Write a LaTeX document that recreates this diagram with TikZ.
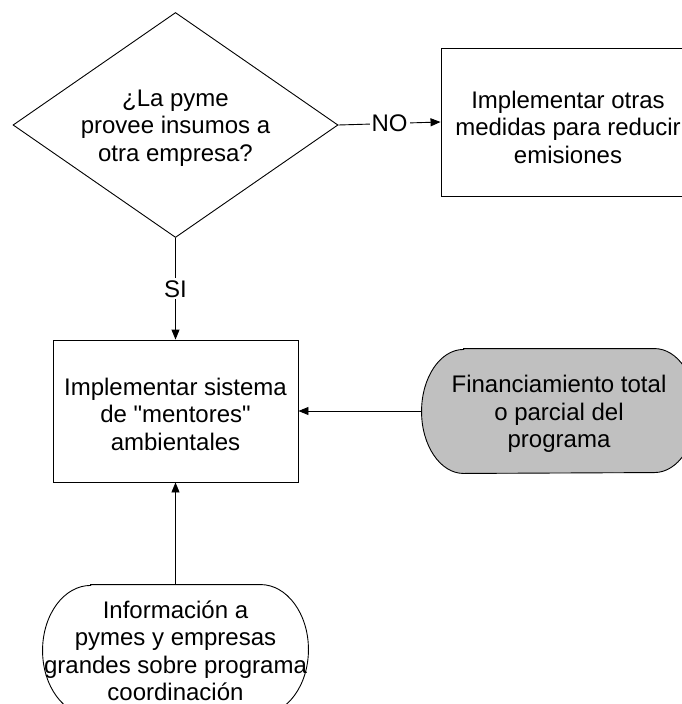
\documentclass[tikz,border=0pt]{standalone}
\usepackage{fontspec}
\setmainfont{Liberation Sans}[Ligatures=TeXOff]
\usetikzlibrary{shapes.geometric,arrows.meta,calc}
\definecolor{shade}{RGB}{192,192,192}
\tikzset{
  box/.style={draw, rectangle, inner sep=0pt},
  txt/.style={align=center, inner sep=0pt},
  arr/.style={-{Triangle[length=10pt,width=8pt]}},
  lbl/.style={fill=white, inner sep=2pt},
}
\begin{document}
\begin{tikzpicture}[x=1pt,y=1pt,font=\fontsize{24}{27.5}\selectfont,line width=0.9pt]
\useasboundingbox (0,0) rectangle (682,-704);
\clip (0,0) rectangle (682,-704);
% decision
\node[diamond, draw, aspect=1.444, minimum width=325pt, minimum height=225pt, inner sep=0pt] (d) at (175.5,-125) {};
\node[txt] (dt) at (175.5,-128) {¿La pyme\\provee insumos a\\otra empresa?};
% right box
\node[box, minimum width=254pt, minimum height=148pt] (r) at (568,-122) {};
\node[txt] (rt) at (568,-127) {Implementar otras\\medidas para reducir\\emisiones};
% middle box
\node[box, minimum width=245pt, minimum height=142pt] (m) at (175.5,-411) {};
\node[txt] (mt) at (175.5,-414) {Implementar sistema\\de "mentores"\\ambientales};
% gray terminator
\node[minimum width=274pt, minimum height=124pt, inner sep=0pt] (g) at (559,-411) {};
\draw[fill=shade] ($(g.north west)+(42pt,0)$) -- ($(g.north east)+(-42pt,0)$)
  arc[start angle=90,end angle=-90,x radius=42pt,y radius=62pt]
  -- ($(g.south west)+(42pt,0)$)
  arc[start angle=270,end angle=90,x radius=42pt,y radius=62pt] -- cycle;
\node[txt] (gt) at (559,-414) {Financiamiento total\\o parcial del\\programa};
% bottom terminator
\node[minimum width=265pt, minimum height=130pt, inner sep=0pt] (b) at (175.5,-650) {};
\draw ($(b.north west)+(48pt,0)$) -- ($(b.north east)+(-48pt,0)$)
  arc[start angle=90,end angle=-90,x radius=48pt,y radius=65pt]
  -- ($(b.south west)+(48pt,0)$)
  arc[start angle=270,end angle=90,x radius=48pt,y radius=65pt] -- cycle;
\node[txt] (bt) at (175.5,-651) {Información a\\pymes y empresas\\grandes sobre programa\\coordinación};
% connectors
\draw[arr] (d.east) -- node[lbl] {NO} (r.west);
\draw[arr] (d.south) -- node[lbl] {SI} (m.north);
\draw[arr] (g.west) -- (m.east);
\draw[arr] (b.north) -- (m.south);
\end{tikzpicture}
\end{document}
